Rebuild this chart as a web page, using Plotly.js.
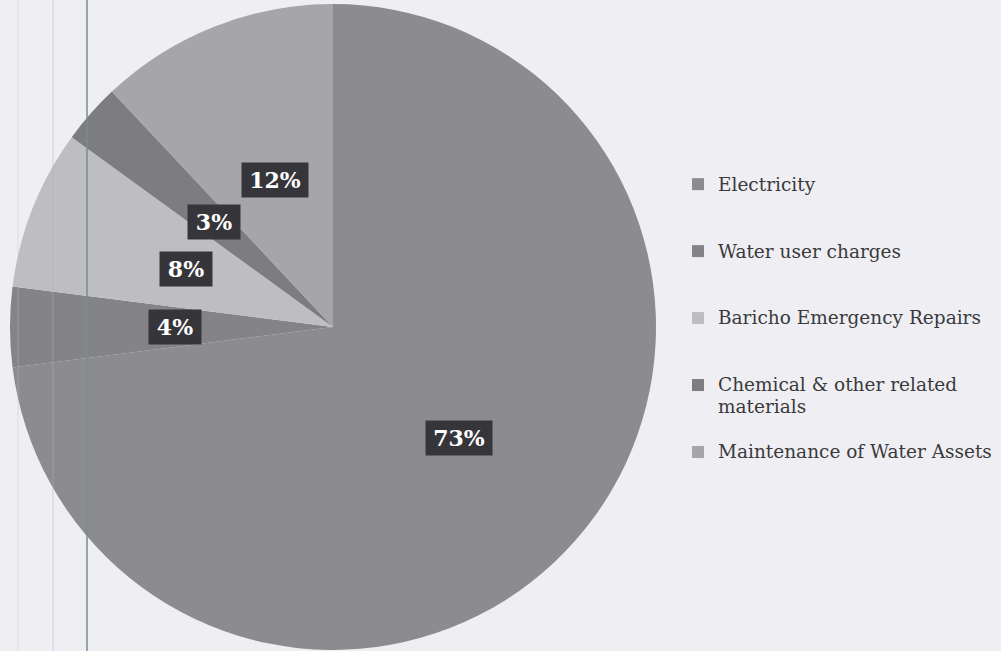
<!DOCTYPE html>
<html>
<head>
<meta charset="utf-8">
<script src="https://cdn.plot.ly/plotly-3.0.1.min.js"></script>
<style>html,body{margin:0;padding:0;background:#eeeef2;}#chart{width:1001px;height:651px;}</style>
</head>
<body>
<div id="chart"></div>
<script>
var categories = ["Electricity", "Water user charges", "Baricho Emergency Repairs", "Chemical & other related materials", "Maintenance of Water Assets"];
var legendLabels = ["Electricity", "Water user charges", "Baricho Emergency Repairs", "Chemical & other related<br>materials", "Maintenance of Water Assets"];
var shares = [73, 4, 8, 3, 12];
var sliceColors = ["#8b8b90", "#838388", "#bdbdc2", "#7c7c81", "#a5a5aa"];

var W = 1001, H = 651;
var cx = 333, cy = 327, R = 323;

var total = shares.reduce(function(a, b){ return a + b; }, 0);
var annotations = [];
var cum = 0;
for (var i = 0; i < shares.length; i++) {
  var mid = (cum + shares[i] / 2) / total * 2 * Math.PI;
  cum += shares[i];
  var rf = shares[i] > 50 ? 0.52 : 0.49;
  var px = cx + rf * R * Math.sin(mid);
  var pyUp = (H - cy) + rf * R * Math.cos(mid);
  var txt = Math.round(shares[i] / total * 100) + "%";
  annotations.push({
    x: px / W, y: pyUp / H, xref: "paper", yref: "paper",
    xanchor: "center", yanchor: "middle",
    text: "<b>" + txt + "</b>",
    showarrow: false,
    width: txt.length * 14 + 18,
    height: 28,
    font: {family: "DejaVu Serif", size: 22, color: "#ffffff"},
    bgcolor: "#36363a", borderpad: 3
  });
}

var labelsPadded = legendLabels.map(function(l){
  var t = '<span style="font-size:18.5px">' + l.replace("<br>", '</span><br><span style="font-size:18.5px">') + "</span>";
  return l.indexOf("<br>") >= 0 ? t + "<br> " : t + "<br> <br> ";
});

var trace = {
  type: "pie",
  labels: labelsPadded,
  values: shares,
  sort: false,
  direction: "clockwise",
  rotation: 0,
  textinfo: "none",
  hoverinfo: "label+percent",
  marker: {colors: sliceColors, line: {width: 0}},
  domain: {x: [(cx - R) / W, (cx + R) / W], y: [(H - cy - R) / H, (H - cy + R) / H]}
};

var layout = {
  width: W, height: H,
  margin: {l: 0, r: 0, t: 0, b: 0},
  paper_bgcolor: "#efeff3",
  showlegend: true,
  legend: {
    x: 678 / W, y: (H - 167) / H, xanchor: "left", yanchor: "top",
    valign: "top",
    font: {family: "DejaVu Serif", size: 16.4, color: "#3a3a3c"},
    bgcolor: "rgba(0,0,0,0)"
  },
  annotations: annotations,
  shapes: [
    {type: "line", xref: "paper", yref: "paper", x0: 87 / W, x1: 87 / W, y0: 0, y1: 1, line: {color: "#7a8c90", width: 1.5}},
    {type: "line", xref: "paper", yref: "paper", x0: 53 / W, x1: 53 / W, y0: 0, y1: 1, line: {color: "rgba(190,170,200,0.5)", width: 1}},
    {type: "line", xref: "paper", yref: "paper", x0: 18 / W, x1: 18 / W, y0: 0, y1: 1, line: {color: "rgba(200,190,210,0.4)", width: 1}}
  ]
};

Plotly.newPlot("chart", [trace], layout, {displayModeBar: false, staticPlot: true});
</script>
</body>
</html>
